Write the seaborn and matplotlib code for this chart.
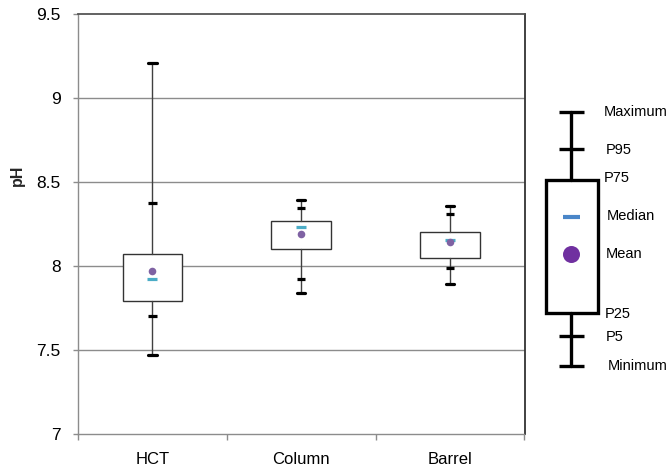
import matplotlib
matplotlib.use("Agg")
import matplotlib.pyplot as plt
import seaborn as sns
import pandas as pd

# ---- data ----
sites = ["HCT", "Column", "Barrel"]
ph_min = [7.47, 7.84, 7.89]
ph_p5 = [7.70, 7.92, 7.99]
ph_p25 = [7.79, 8.10, 8.05]
ph_median = [7.92, 8.23, 8.155]
ph_mean = [7.97, 8.19, 8.14]
ph_p75 = [8.07, 8.27, 8.205]
ph_p95 = [8.375, 8.345, 8.31]
ph_max = [9.21, 8.39, 8.36]
y_ticks = [7, 7.5, 8, 8.5, 9, 9.5]
y_tick_labels = ["7", "7.5", "8", "8.5", "9", "9.5"]
legend_labels = ["Maximum", "P95", "P75", "Median", "Mean", "P25", "P5", "Minimum"]

sns.set_theme(style="white")
plt.rcParams["font.family"] = ["Liberation Sans", "DejaVu Sans"]

MEDIAN_C = "#4BACC6"
MEAN_C = "#7F62A3"

fig = plt.figure(figsize=(6.7, 4.66), dpi=100)
W, H = 670, 466
ax = fig.add_axes([78 / W, 32 / H, (524.5 - 78) / W, 420 / H])

df = pd.DataFrame({"site": sites, "pos": range(len(sites)), "median": ph_median,
                   "mean": ph_mean, "p5": ph_p5, "p95": ph_p95})

# grid
for yv in y_ticks[1:-1]:
    ax.axhline(yv, color="#8c8c8c", lw=1.0, zorder=0)

stats = []
for i, s in enumerate(sites):
    stats.append(dict(label=s, med=ph_median[i], q1=ph_p25[i], q3=ph_p75[i],
                      whislo=ph_min[i], whishi=ph_max[i], fliers=[]))
ax.bxp(stats, positions=df["pos"], widths=0.4, showfliers=False, patch_artist=True,
       capwidths=0.055,
       boxprops=dict(facecolor="white", edgecolor="#333333", lw=1.0),
       whiskerprops=dict(color="#404040", lw=1.0),
       capprops=dict(color="black", lw=2.3),
       medianprops=dict(visible=False), zorder=2)

# P5 / P95 caps
ax.hlines(df["p5"], df["pos"] - 0.0275, df["pos"] + 0.0275, color="black", lw=2.3, zorder=3)
ax.hlines(df["p95"], df["pos"] - 0.0275, df["pos"] + 0.0275, color="black", lw=2.3, zorder=3)

sns.scatterplot(data=df, x="pos", y="median", marker="_", s=60, linewidth=2.3,
                color=MEDIAN_C, edgecolor=MEDIAN_C, ax=ax, zorder=4, legend=False)
sns.scatterplot(data=df, x="pos", y="mean", marker="o", s=30, linewidth=0,
                color=MEAN_C, ax=ax, zorder=4, legend=False)

ax.set_xlim(-0.5, 2.5)
ax.set_ylim(7, 9.5)
ax.set_xticks(df["pos"], sites)
ax.set_xticks([-0.5, 0.5, 1.5, 2.5], minor=True)
ax.tick_params(axis="x", which="major", length=0, pad=13, labelsize=12, colors="black")
ax.tick_params(axis="x", which="minor", length=4, width=1, color="#8c8c8c", direction="out", bottom=True)
ax.set_yticks(y_ticks, y_tick_labels)
ax.tick_params(axis="y", length=3.5, width=1, color="#8c8c8c", direction="out", left=True,
               pad=9, labelsize=12.5, labelcolor="black")
ax.set_xlabel("")
ax.set_ylabel("pH", fontsize=11.5, fontweight="bold")
ax.yaxis.set_label_coords(-0.118, 0.617)
for sp in ["left", "bottom"]:
    ax.spines[sp].set_color("#8c8c8c")
    ax.spines[sp].set_linewidth(1.0)
for sp in ["top", "right"]:
    ax.spines[sp].set_color("#333333")
    ax.spines[sp].set_linewidth(1.3)
ax.spines["top"].set_color("#555555")

# ---- schematic legend (pixel space) ----
lax = fig.add_axes([0, 0, 1, 1], facecolor="none")
lax.set_xlim(0, W)
lax.set_ylim(H, 0)
lax.axis("off")
cx = 571
y_max, y_p95, y_p75, y_med, y_mean, y_p25, y_p5, y_min = 111.5, 149, 179.5, 216.5, 253.5, 313, 336, 366
lax.plot([cx, cx], [y_max, y_p75], color="black", lw=2.4)
lax.plot([cx, cx], [y_p25, y_min], color="black", lw=2.4)
lax.add_patch(plt.Rectangle((545.5, y_p75), 52, y_p25 - y_p75, facecolor="white",
                            edgecolor="black", lw=2.4))
for yy in [y_max, y_p95, y_p5, y_min]:
    lax.plot([cx - 12.5, cx + 12.5], [yy, yy], color="black", lw=2.4, solid_capstyle="butt")
lax.plot([cx - 8.5, cx + 8.5], [y_med, y_med], color="#4A86C8", lw=3, solid_capstyle="butt")
lax.scatter([cx], [y_mean], s=150, color="#7030A0", linewidth=0)
label_x = [604, 606, 604, 607, 606, 605, 606, 608]
label_y = [y_max, y_p95 + 1, y_p75 - 2, y_med, y_mean, y_p25 + 1, y_p5 + 1, y_min]
for lab, lx, ly in zip(legend_labels, label_x, label_y):
    lax.text(lx, ly, lab, fontsize=10.5, ha="left", va="center", color="black")

fig.savefig("out.png", dpi=100)
